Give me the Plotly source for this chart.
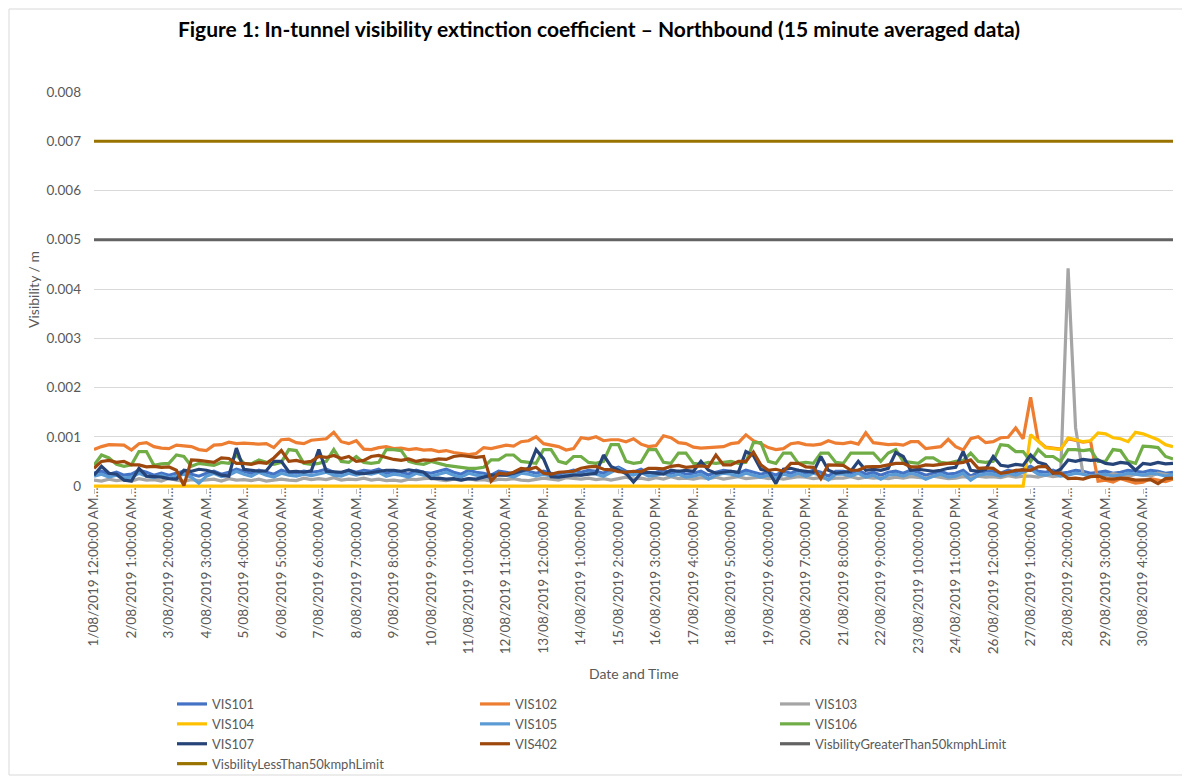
import numpy as np
import pandas as pd
import plotly.graph_objects as go

# Readings taken off the chart, in units of 0.0001 per metre, one every 5 hours
UNIT = 1e-4
START = "2019-08-01 00:00"
STEP = "5h"

VIS101_READ = [
    2.6, 3.0, 2.4, 2.8, 2.2, 2.4, 3.2, 2.8, 2.2, 2.6, 2.2, 2.6, 3.0, 2.4, 2.0,
    2.6, 3.0, 2.4, 2.8, 3.4, 3.0, 2.6, 3.2, 2.8, 2.4, 3.2, 2.8, 2.6, 3.0, 2.8,
    3.0, 3.4, 2.8, 2.6, 3.2, 2.8, 3.2, 3.0, 3.4, 2.6, 3.0, 2.8, 2.4, 3.2, 2.8,
    2.6, 3.0, 3.4, 2.8, 2.4, 3.2, 2.8, 2.6, 2.2, 3.0, 2.8, 2.4, 3.2, 3.0, 2.6,
    3.0, 2.6, 2.4, 2.8, 3.2, 2.8, 3.2, 3.0, 2.6, 3.4, 3.8, 3.0, 2.8, 3.4, 2.6,
    2.8, 3.2, 2.6, 3.0, 2.4, 2.6, 3.0, 2.2, 2.8, 3.2, 3.0, 2.6, 3.2, 2.8, 2.4,
    2.8, 2.2, 3.0, 2.6, 3.2, 2.6, 3.2, 2.8, 2.0, 3.0, 3.0, 2.6, 3.2, 2.4, 2.8,
    2.2, 2.8, 3.0, 2.6, 3.2, 2.8, 2.2, 2.6, 3.0, 2.4, 2.6, 3.2, 2.0, 2.8, 3.0,
    3.0, 2.6, 3.2, 2.8, 3.4, 4.0, 3.0, 2.8, 3.2, 2.6, 2.8, 3.2, 3.0, 2.6, 2.8,
    3.0, 2.6, 2.8, 3.2, 3.0, 2.8, 3.2, 3.0, 2.6, 2.8,
]
VIS102_READ = [
    7.4, 8.0, 8.4, 8.4, 8.3, 7.3, 8.6, 8.8, 8.0, 7.7, 7.6, 8.3, 8.2, 8.0, 7.4,
    7.2, 8.3, 8.4, 8.9, 8.6, 8.7, 8.6, 8.5, 8.6, 7.8, 9.4, 9.5, 8.8, 8.6, 9.3,
    9.4, 9.6, 10.9, 9.0, 8.6, 9.2, 7.5, 7.4, 7.8, 8.0, 7.6, 7.7, 7.4, 7.6, 7.3,
    7.4, 7.0, 7.2, 6.8, 6.6, 6.4, 6.6, 7.8, 7.6, 8.0, 8.3, 8.1, 9.0, 9.2, 10.0,
    8.6, 8.3, 8.0, 7.3, 7.6, 9.8, 9.6, 10.0, 9.2, 9.4, 9.4, 9.0, 9.6, 8.5, 8.0,
    8.2, 10.2, 9.8, 8.8, 8.6, 7.9, 7.7, 7.8, 7.9, 8.0, 8.6, 8.8, 10.4, 9.2, 8.6,
    7.8, 7.4, 7.6, 8.6, 8.8, 8.4, 8.3, 8.5, 9.2, 8.7, 8.6, 8.9, 8.5, 10.8, 8.8,
    8.6, 8.4, 8.5, 8.3, 9.0, 9.0, 7.6, 7.8, 8.0, 9.5, 8.0, 7.3, 9.6, 10.0, 8.8,
    9.0, 9.8, 9.9, 11.8, 9.6, 18.0, 9.2, 7.9, 7.7, 7.5, 9.6, 9.3, 8.9, 9.1, 1.0,
    1.2, 0.8, 1.5, 1.0, 0.6, 0.8, 1.5, 1.2, 0.9, 1.4,
]
VIS103_READ = [
    1.2, 1.0, 1.4, 1.1, 1.3, 1.0, 1.5, 1.2, 1.3, 1.0, 1.6, 1.2, 1.0, 1.3, 1.1,
    1.2, 1.4, 1.0, 1.5, 1.2, 1.3, 1.1, 1.4, 1.0, 1.2, 1.4, 1.2, 1.1, 1.6, 1.3,
    1.5, 1.3, 1.7, 1.2, 1.4, 1.3, 1.6, 1.2, 1.4, 1.1, 1.2, 1.0, 1.4, 1.3, 1.5,
    1.6, 1.3, 1.1, 1.4, 1.2, 1.5, 1.2, 1.3, 1.0, 1.4, 1.3, 1.5, 1.2, 1.1, 1.4,
    1.6, 1.4, 1.2, 1.7, 1.5, 1.4, 1.6, 1.3, 1.5, 1.2, 1.5, 1.8, 1.4, 1.6, 1.3,
    1.7, 1.4, 1.9, 1.5, 1.6, 1.4, 1.7, 1.5, 1.8, 1.4, 1.6, 1.9, 1.5, 1.7, 1.8,
    1.5, 1.7, 1.4, 1.6, 1.9, 1.8, 1.5, 1.7, 1.4, 1.6, 1.6, 1.9, 1.5, 1.8, 1.6,
    1.7, 1.5, 1.8, 1.6, 1.9, 1.8, 1.6, 2.0, 1.7, 1.5, 1.6, 1.9, 1.7, 2.0, 1.8,
    1.9, 1.7, 2.1, 1.8, 2.0, 2.0, 1.8, 2.2, 1.9, 2.1, 44.2, 11.8, 2.4, 2.0, 2.3,
    2.1, 2.5, 2.2, 1.9, 2.4, 2.2, 2.0, 2.6, 2.3, 2.1,
]
VIS104_READ = [
    0, 0, 0, 0, 0, 0, 0, 0, 0, 0, 0, 0, 0, 0, 0,
    0, 0, 0, 0, 0, 0, 0, 0, 0, 0, 0, 0, 0, 0, 0,
    0, 0, 0, 0, 0, 0, 0, 0, 0, 0, 0, 0, 0, 0, 0,
    0, 0, 0, 0, 0, 0, 0, 0, 0, 0, 0, 0, 0, 0, 0,
    0, 0, 0, 0, 0, 0, 0, 0, 0, 0, 0, 0, 0, 0, 0,
    0, 0, 0, 0, 0, 0, 0, 0, 0, 0, 0, 0, 0, 0, 0,
    0, 0, 0, 0, 0, 0, 0, 0, 0, 0, 0, 0, 0, 0, 0,
    0, 0, 0, 0, 0, 0, 0, 0, 0, 0, 0, 0, 0, 0, 0,
    0, 0, 0, 0, 0, 10.4, 9.0, 7.8, 7.6, 7.4, 9.8, 9.4, 9.0, 9.2, 10.8,
    10.6, 9.8, 9.6, 9.0, 10.9, 10.6, 10.0, 9.4, 8.4, 8.0,
]
VIS105_READ = [
    2.0, 2.4, 1.8, 2.2, 1.6, 1.8, 2.6, 2.0, 1.7, 2.2, 1.6, 2.0, 2.4, 1.8, 0.6,
    2.0, 2.6, 1.9, 2.2, 3.0, 2.4, 2.0, 2.8, 2.2, 1.8, 2.6, 2.2, 2.0, 2.4, 2.1,
    2.4, 2.8, 2.2, 2.0, 2.6, 2.2, 2.6, 2.4, 2.8, 2.0, 2.4, 2.2, 1.8, 2.6, 2.2,
    2.0, 2.4, 2.8, 2.2, 1.8, 2.6, 2.2, 2.0, 1.6, 2.4, 2.2, 1.8, 2.6, 2.4, 2.0,
    2.4, 2.0, 1.8, 2.2, 2.6, 2.2, 2.6, 2.4, 2.0, 2.8, 3.6, 2.4, 2.2, 2.8, 2.0,
    2.2, 2.6, 2.0, 2.4, 1.8, 2.0, 2.4, 1.4, 2.2, 2.6, 2.4, 2.0, 2.6, 2.2, 1.8,
    2.2, 1.6, 2.4, 2.0, 2.6, 2.0, 2.6, 2.2, 1.2, 2.4, 2.4, 2.0, 2.6, 1.8, 2.2,
    1.4, 2.2, 2.4, 2.0, 2.6, 2.2, 1.4, 2.0, 2.4, 1.8, 2.0, 2.6, 1.2, 2.2, 2.4,
    2.4, 2.0, 2.6, 2.2, 2.8, 3.4, 2.4, 2.2, 2.6, 2.0, 2.2, 2.6, 2.4, 2.0, 2.2,
    2.4, 2.0, 2.2, 2.6, 2.4, 2.2, 2.6, 2.4, 2.0, 2.2,
]
VIS106_READ = [
    4.2, 6.3, 5.7, 4.4, 4.0, 4.3, 7.0, 7.0, 4.2, 4.5, 4.6, 6.3, 6.0, 4.0, 4.6,
    4.4, 4.2, 4.8, 4.6, 6.3, 4.6, 4.5, 5.3, 4.8, 4.4, 4.8, 7.4, 7.2, 4.6, 4.4,
    4.6, 5.0, 7.4, 5.0, 4.8, 6.0, 4.8, 4.6, 4.8, 7.4, 7.4, 7.2, 5.0, 4.6, 4.4,
    5.0, 4.6, 4.2, 4.0, 3.8, 3.6, 3.6, 3.8, 5.3, 5.3, 6.3, 6.3, 5.0, 4.8, 4.6,
    7.4, 7.4, 5.0, 4.6, 6.0, 6.0, 4.8, 4.6, 5.0, 8.4, 8.4, 5.0, 4.6, 4.8, 7.4,
    7.4, 4.8, 4.6, 6.7, 6.7, 4.6, 4.4, 4.8, 4.6, 4.8, 5.0, 4.6, 4.8, 8.8, 8.8,
    5.0, 4.6, 6.7, 6.7, 4.6, 4.8, 4.6, 6.7, 6.7, 4.8, 4.6, 6.7, 6.7, 6.7, 6.7,
    5.0, 6.7, 7.4, 5.0, 4.8, 4.6, 5.7, 5.7, 4.8, 4.6, 5.0, 5.2, 6.7, 5.0, 4.8,
    5.0, 8.4, 8.2, 7.0, 7.0, 5.0, 7.4, 6.0, 6.0, 5.0, 7.4, 7.4, 7.2, 7.4, 5.0,
    5.0, 7.4, 7.2, 5.0, 4.6, 8.1, 8.0, 7.8, 6.0, 5.5,
]
VIS107_READ = [
    2.2, 4.0, 2.6, 2.4, 1.2, 1.0, 3.6, 2.0, 1.9, 1.8, 1.5, 1.4, 3.2, 3.0, 3.4,
    3.2, 2.8, 2.2, 2.0, 7.7, 3.4, 3.2, 3.0, 3.1, 5.0, 5.0, 2.9, 3.0, 2.8, 3.1,
    7.4, 3.0, 2.9, 2.8, 3.2, 2.6, 2.5, 2.7, 3.0, 3.2, 3.2, 3.0, 3.3, 3.1, 2.8,
    1.5, 1.6, 1.4, 1.5, 1.2, 1.5, 1.4, 1.8, 2.2, 2.2, 2.2, 2.6, 3.0, 3.6, 7.4,
    5.5, 1.9, 1.8, 2.0, 2.2, 2.2, 2.4, 2.6, 6.3, 4.0, 3.2, 2.6, 0.8, 2.6, 2.8,
    2.6, 2.4, 3.2, 3.0, 3.2, 3.0, 5.0, 3.2, 2.6, 2.8, 3.0, 2.8, 7.0, 6.2, 3.4,
    3.0, 0.5, 3.4, 3.6, 3.2, 3.0, 2.8, 6.0, 3.2, 2.6, 2.8, 3.0, 5.0, 3.2, 3.4,
    3.2, 3.6, 6.8, 6.0, 3.2, 3.4, 3.2, 3.0, 3.2, 3.6, 3.8, 7.0, 3.2, 3.0, 3.4,
    6.0, 4.2, 4.0, 4.4, 4.2, 6.3, 4.8, 4.4, 2.6, 3.4, 5.3, 5.0, 5.4, 5.2, 5.3,
    4.6, 4.4, 4.8, 4.6, 3.2, 4.6, 4.4, 4.8, 4.5, 4.6,
]
VIS402_READ = [
    3.6, 5.0, 5.2, 4.8, 5.0, 4.3, 4.3, 3.9, 4.0, 3.8, 3.9, 3.2, 0.1, 5.3, 5.2,
    5.0, 4.8, 5.7, 5.6, 4.6, 4.6, 4.4, 4.8, 4.6, 5.7, 7.2, 5.0, 5.2, 4.8, 5.0,
    6.0, 5.8, 6.2, 5.6, 6.0, 5.0, 5.2, 6.0, 6.2, 5.8, 5.4, 5.2, 5.5, 5.0, 5.3,
    5.2, 5.5, 5.4, 6.0, 6.2, 6.0, 5.8, 6.0, 1.0, 2.6, 2.4, 2.8, 3.6, 3.4, 3.8,
    2.6, 2.4, 2.8, 2.9, 3.0, 3.6, 3.9, 4.0, 3.4, 3.3, 2.9, 2.8, 3.0, 2.9, 3.6,
    3.6, 3.5, 4.0, 4.2, 3.8, 4.0, 4.1, 3.9, 6.3, 4.3, 4.3, 5.0, 5.0, 6.9, 4.3,
    3.2, 3.4, 3.0, 4.6, 4.6, 3.9, 3.8, 1.5, 4.3, 4.3, 4.2, 3.2, 3.2, 3.9, 3.9,
    4.0, 4.3, 4.6, 4.6, 3.9, 3.9, 4.3, 4.2, 4.4, 4.6, 4.6, 4.8, 5.3, 3.6, 3.7,
    3.6, 2.6, 2.8, 3.2, 3.3, 3.2, 3.9, 4.0, 2.6, 2.6, 1.5, 1.6, 1.4, 1.9, 2.0,
    1.5, 1.4, 1.6, 1.5, 1.2, 1.2, 1.3, 0.5, 1.5, 1.6,
]

GREATER_THAN_50_LIMIT = 0.005
LESS_THAN_50_LIMIT = 0.007

TICK_LABELS = [
    "1/08/2019 12:00:00 AM…", "2/08/2019 1:00:00 AM…", "3/08/2019 2:00:00 AM…",
    "4/08/2019 3:00:00 AM…", "5/08/2019 4:00:00 AM…", "6/08/2019 5:00:00 AM…",
    "7/08/2019 6:00:00 AM…", "8/08/2019 7:00:00 AM…", "9/08/2019 8:00:00 AM…",
    "10/08/2019 9:00:00 AM…", "11/08/2019 10:00:00 AM…", "12/08/2019 11:00:00 AM…",
    "13/08/2019 12:00:00 PM…", "14/08/2019 1:00:00 PM…", "15/08/2019 2:00:00 PM…",
    "16/08/2019 3:00:00 PM…", "17/08/2019 4:00:00 PM…", "18/08/2019 5:00:00 PM…",
    "19/08/2019 6:00:00 PM…", "20/08/2019 7:00:00 PM…", "21/08/2019 8:00:00 PM…",
    "22/08/2019 9:00:00 PM…", "23/08/2019 10:00:00 PM…", "24/08/2019 11:00:00 PM…",
    "26/08/2019 12:00:00 AM…", "27/08/2019 1:00:00 AM…", "28/08/2019 2:00:00 AM…",
    "29/08/2019 3:00:00 AM…", "30/08/2019 4:00:00 AM…",
]
TICK_STEP = "25h"

Y_TICKS = [0, 0.001, 0.002, 0.003, 0.004, 0.005, 0.006, 0.007, 0.008]
Y_TICK_TEXT = ["0", "0.001", "0.002", "0.003", "0.004", "0.005", "0.006", "0.007", "0.008"]

times = pd.date_range(START, periods=len(VIS101_READ), freq=STEP)
tick_times = pd.date_range(START, periods=len(TICK_LABELS), freq=TICK_STEP)

series = [
    ("VIS101", VIS101_READ, "#4472C4", "legend"),
    ("VIS102", VIS102_READ, "#ED7D31", "legend2"),
    ("VIS103", VIS103_READ, "#A5A5A5", "legend3"),
    ("VIS104", VIS104_READ, "#FFC000", "legend"),
    ("VIS105", VIS105_READ, "#5B9BD5", "legend2"),
    ("VIS106", VIS106_READ, "#70AD47", "legend3"),
    ("VIS107", VIS107_READ, "#264478", "legend"),
    ("VIS402", VIS402_READ, "#9E480E", "legend2"),
]

fig = go.Figure()
for name, vals, color, lg in series:
    fig.add_trace(go.Scatter(
        x=times, y=np.array(vals) * UNIT, name=name, mode="lines",
        line=dict(color=color, width=3.2), legend=lg,
    ))

fig.add_trace(go.Scatter(
    x=times, y=[GREATER_THAN_50_LIMIT] * len(times),
    name="VisbilityGreaterThan50kmphLimit", mode="lines",
    line=dict(color="#636363", width=3.2), legend="legend3",
))
fig.add_trace(go.Scatter(
    x=times, y=[LESS_THAN_50_LIMIT] * len(times),
    name="VisbilityLessThan50kmphLimit", mode="lines",
    line=dict(color="#997300", width=3.2), legend="legend",
))

FONT = "Lato"
GREY = "#595959"

# The page body has an 8 px margin, so the figure is drawn 8 px in from the top-left.
# The figure is made a little taller than the window so the legend never pushes the margins.
W, H = 1182, 800
OFF = 8
PLOT_L, PLOT_R, PLOT_T, PLOT_B = 94, 1173, 92, 488   # page pixels
PW, PH = PLOT_R - PLOT_L, PLOT_B - PLOT_T


def px_x(page_x):
    return (page_x - PLOT_L) / PW


def px_y(page_y):
    return (PLOT_B - page_y) / PH


legend_common = dict(
    orientation="v", xanchor="left", yanchor="top", xref="paper", yref="paper",
    font=dict(family=FONT, size=13, color=GREY), bgcolor="rgba(0,0,0,0)",
    tracegroupgap=0, itemwidth=30,
)
LEG_TOP = px_y(689)

fig.update_layout(
    width=W, height=H,
    margin=dict(l=PLOT_L - OFF, r=W + OFF - PLOT_R, t=PLOT_T - OFF, b=H + OFF - PLOT_B),
    paper_bgcolor="white", plot_bgcolor="white",
    title=dict(
        text="<b>Figure 1: In-tunnel visibility extinction coefficient – Northbound (15 minute averaged data)</b>",
        x=0.5, xanchor="center", y=1 - (30 - OFF) / H, yanchor="middle",
        font=dict(family=FONT, size=21, color="#000000"),
    ),
    xaxis=dict(
        type="date", range=[times[0], times[-1]],
        tickvals=tick_times, ticktext=TICK_LABELS, tickangle=-90,
        tickfont=dict(family=FONT, size=13.5, color=GREY),
        showgrid=False, showline=False, zeroline=False, automargin=False,
        ticks="outside", ticklen=5, tickcolor="#BFBFBF", tickwidth=1,
        ticklabelstandoff=-12,
    ),
    yaxis=dict(
        range=[-0.00004, 0.008], tickvals=Y_TICKS, ticktext=Y_TICK_TEXT,
        tickfont=dict(family=FONT, size=13.5, color=GREY),
        showgrid=True, gridcolor="#D9D9D9", gridwidth=1, automargin=False,
        zeroline=False, showline=False, ticks="", ticklabelstandoff=12,
    ),
    showlegend=True,
    legend=dict(x=px_x(172), y=LEG_TOP, **legend_common),
    legend2=dict(x=px_x(475), y=LEG_TOP, **legend_common),
    legend3=dict(x=px_x(775), y=LEG_TOP, **legend_common),
    annotations=[
        dict(text="Date and Time", x=0.5, y=px_y(673), xref="paper", yref="paper",
             showarrow=False, xanchor="center", yanchor="middle",
             font=dict(family=FONT, size=14, color=GREY)),
        dict(text="Visibility / m", x=px_x(33), y=0.5, xref="paper", yref="paper",
             showarrow=False, textangle=-90, xanchor="center", yanchor="middle",
             font=dict(family=FONT, size=14, color=GREY)),
    ],
    shapes=[
        dict(type="rect", xref="paper", yref="paper",
             x0=px_x(9), x1=px_x(1186), y0=px_y(775), y1=px_y(9),
             line=dict(color="#D9D9D9", width=1), fillcolor="rgba(0,0,0,0)", layer="below"),
    ],
)

fig.write_html("out.html")
